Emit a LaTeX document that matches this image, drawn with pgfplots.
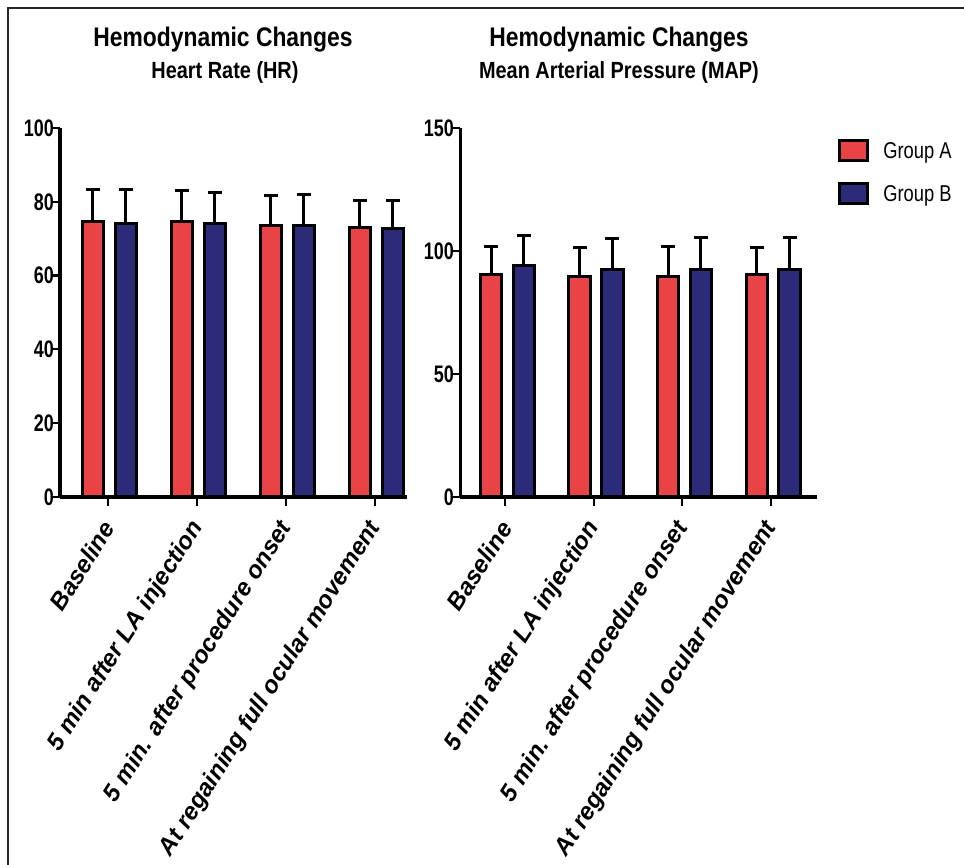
\documentclass[border=0pt]{standalone}
\usepackage{pgfplots}
\pgfplotsset{compat=1.18}
\usepackage{fontspec}
\setmainfont{Liberation Sans}
\newfontfamily\narrow{Liberation Sans}[FakeStretch=0.75]
\newfontfamily\tfont{Liberation Sans}[FakeStretch=0.85]
\newfontfamily\lfont{Liberation Sans}[FakeStretch=0.8]
\newfontfamily\labfont{Liberation Sans}
\definecolor{grA}{RGB}{233,67,69}
\definecolor{grB}{RGB}{43,43,122}
\pgfplotsset{
  hemo/.style={
    scale only axis,
    axis lines=left,
    axis line style={line width=3bp,-},
    height=369bp,
    ymin=0,
    ybar,
    bar width=0.24,
    xtick={0,1,2,3},
    xticklabels={Baseline,5 min after LA injection,5 min. after procedure onset,At regaining full ocular movement},
    tick align=outside,
    major tick length=9bp,
    tick style={line width=2.2bp,black},
    /pgf/number format/assume math mode=true,
    yticklabel style={font=\narrow\bfseries\fontsize{24}{24}\selectfont, inner sep=1bp, xshift=4bp},
    xticklabel style={font=\labfont\bfseries\itshape\fontsize{24.3}{24.3}\selectfont, yshift=-16bp, xshift=2bp, rotate=57.5, anchor=east, inner sep=2bp},
    every axis plot/.append style={line width=3bp, draw=black},
    error bars/y dir=plus,
    error bars/y explicit,
    error bars/error bar style={line width=3bp, black},
    error bars/error mark options={line width=3bp, black, mark size=7bp, rotate=90},
    legend image code/.code={\draw[#1, line width=3bp, draw=black] (0bp,-10bp) rectangle (28bp,10bp); \path (40bp,0bp);},
  }
}
\begin{document}
\begin{tikzpicture}
\path[use as bounding box] (0,0) rectangle (964bp,865bp);
\draw[line width=1.5bp, black!85] (8bp,0) -- (8bp,857bp) -- (964bp,857bp);

\node[font=\tfont\bfseries\fontsize{27}{27}\selectfont] at (223bp,825bp) {Hemodynamic Changes};
\node[font=\tfont\bfseries\fontsize{23.5}{23.5}\selectfont] at (225bp,793bp) {Heart Rate (HR)};
\node[font=\tfont\bfseries\fontsize{27}{27}\selectfont] at (619bp,825bp) {Hemodynamic Changes};
\node[font=\tfont\bfseries\fontsize{23.5}{23.5}\selectfont] at (619bp,793bp) {Mean Arterial Pressure (MAP)};

\begin{axis}[hemo, at={(60bp,368bp)}, anchor=south west, width=347bp,
  xmin=-0.54, xmax=3.36, ymax=100, ytick={0,20,40,60,80,100}]
\addplot[fill=grA, bar shift=-0.17] coordinates {(0,74.6) +- (0,8.6) (1,74.6) +- (0,8.4) (2,73.6) +- (0,8.0) (3,73.1) +- (0,7.2)};
\addplot[fill=grB, bar shift=0.2] coordinates {(0,74.2) +- (0,9.0) (1,74.2) +- (0,8.3) (2,73.6) +- (0,8.5) (3,72.8) +- (0,7.5)};
\end{axis}

\begin{axis}[hemo, at={(460bp,368bp)}, anchor=south west, width=357bp,
  xmin=-0.51, xmax=3.52, ymax=150, ytick={0,50,100,150},
  legend style={at={(1.059,0.97)}, anchor=north west, draw=none, fill=none,
    font=\lfont\fontsize{23}{23}\selectfont, row sep=20bp, inner sep=0pt},
  legend cell align=left]
\addplot[fill=grA, bar shift=-0.16] coordinates {(0,90.3) +- (0,11.5) (1,89.6) +- (0,11.8) (2,89.6) +- (0,12.2) (3,90.3) +- (0,11.1)};
\addlegendentry{Group A}
\addplot[fill=grB, bar shift=0.21] coordinates {(0,94.3) +- (0,12.2) (1,92.6) +- (0,12.3) (2,92.6) +- (0,12.9) (3,92.6) +- (0,12.9)};
\addlegendentry{Group B}
\end{axis}
\end{tikzpicture}
\end{document}
